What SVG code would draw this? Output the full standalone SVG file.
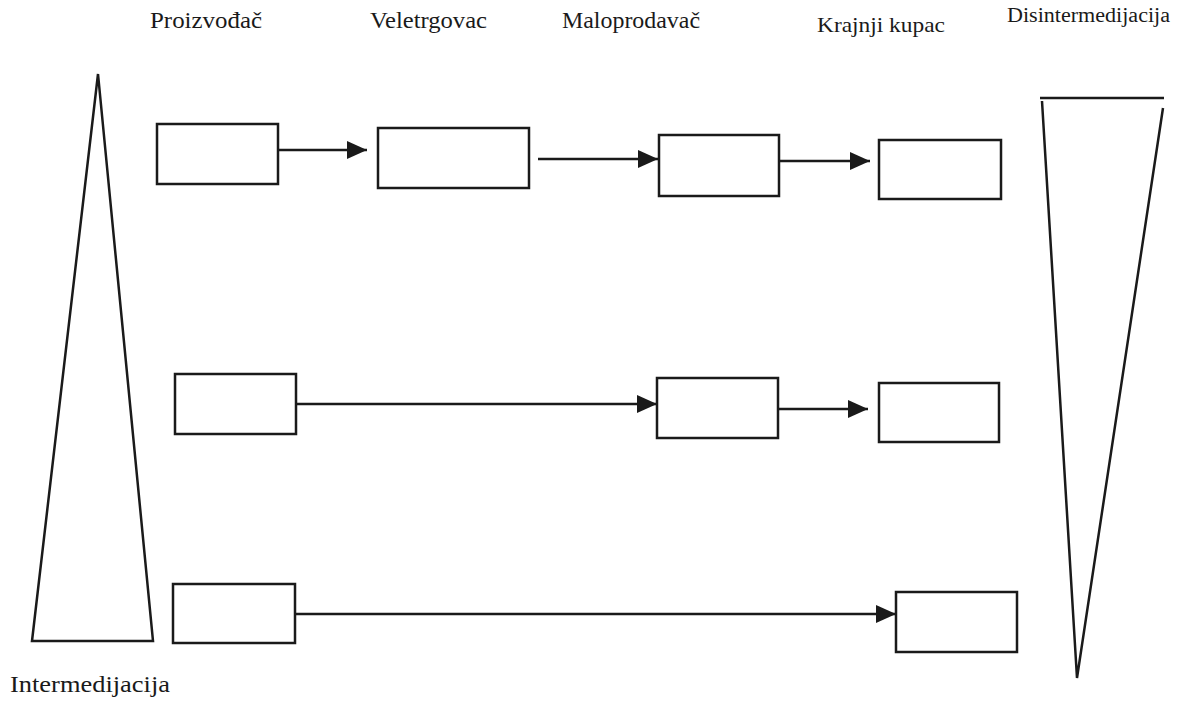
<svg xmlns="http://www.w3.org/2000/svg" width="1184" height="720" viewBox="0 0 1184 720">
<defs>
<marker id="arr" markerWidth="20" markerHeight="18" refX="20" refY="9" orient="auto" markerUnits="userSpaceOnUse">
<path d="M0,0 L20,9 L0,18 Z" fill="#1a1a1a"/>
</marker>
</defs>
<style>
.box{fill:#fff;stroke:#1a1a1a;stroke-width:2.5}
.tri{fill:none;stroke:#1a1a1a;stroke-width:2.5;stroke-linejoin:miter}
.con{stroke:#1a1a1a;stroke-width:2.5;fill:none}
.lbl{font-family:"Liberation Serif","Times New Roman",serif;font-size:23px;fill:#1a1a1a}
</style>
<rect width="1184" height="720" fill="#fff"/>
<g id="labels">
<text class="lbl" x="150" y="28" textLength="112" lengthAdjust="spacingAndGlyphs">Proizvođač</text>
<text class="lbl" x="370" y="28" textLength="117" lengthAdjust="spacingAndGlyphs">Veletrgovac</text>
<text class="lbl" x="562" y="28" textLength="138" lengthAdjust="spacingAndGlyphs">Maloprodavač</text>
<text class="lbl" x="817" y="32" style="font-size:22px" textLength="128" lengthAdjust="spacingAndGlyphs">Krajnji kupac</text>
<text class="lbl" x="1007" y="22" style="font-size:20px" textLength="163" lengthAdjust="spacingAndGlyphs">Disintermedijacija</text>
<text class="lbl" x="10" y="692" textLength="160" lengthAdjust="spacingAndGlyphs">Intermedijacija</text>
</g>
<g id="intermedijacija-triangle">
<path class="tri" d="M98,74 L32,641 L153,641 Z"/>
</g>
<g id="disintermedijacija-triangle">
<path class="tri" d="M1040,98 L1164,98"/>
<path class="tri" d="M1042,101 L1077,678 L1163,108"/>
</g>
<g id="row1-proizvodac"><rect class="box" x="157" y="124" width="121" height="60"/></g>
<g id="row1-veletrgovac"><rect class="box" x="378" y="128" width="151" height="60"/></g>
<g id="row1-maloprodavac"><rect class="box" x="659" y="135" width="120" height="61"/></g>
<g id="row1-kupac"><rect class="box" x="879" y="140" width="122" height="59"/></g>
<g id="row2-proizvodac"><rect class="box" x="175" y="374" width="121" height="60"/></g>
<g id="row2-maloprodavac"><rect class="box" x="657" y="378" width="121" height="60"/></g>
<g id="row2-kupac"><rect class="box" x="879" y="383" width="120" height="59"/></g>
<g id="row3-proizvodac"><rect class="box" x="173" y="584" width="122" height="59"/></g>
<g id="row3-kupac"><rect class="box" x="896" y="592" width="121" height="60"/></g>
<g id="connectors">
<line class="con" x1="278" y1="150" x2="367" y2="150" marker-end="url(#arr)"/>
<line class="con" x1="538" y1="159" x2="658" y2="159" marker-end="url(#arr)"/>
<line class="con" x1="779" y1="161" x2="870" y2="161" marker-end="url(#arr)"/>
<line class="con" x1="296" y1="404" x2="657" y2="404" marker-end="url(#arr)"/>
<line class="con" x1="778" y1="409" x2="868" y2="409" marker-end="url(#arr)"/>
<line class="con" x1="295" y1="614" x2="896" y2="614" marker-end="url(#arr)"/>
</g>
</svg>
